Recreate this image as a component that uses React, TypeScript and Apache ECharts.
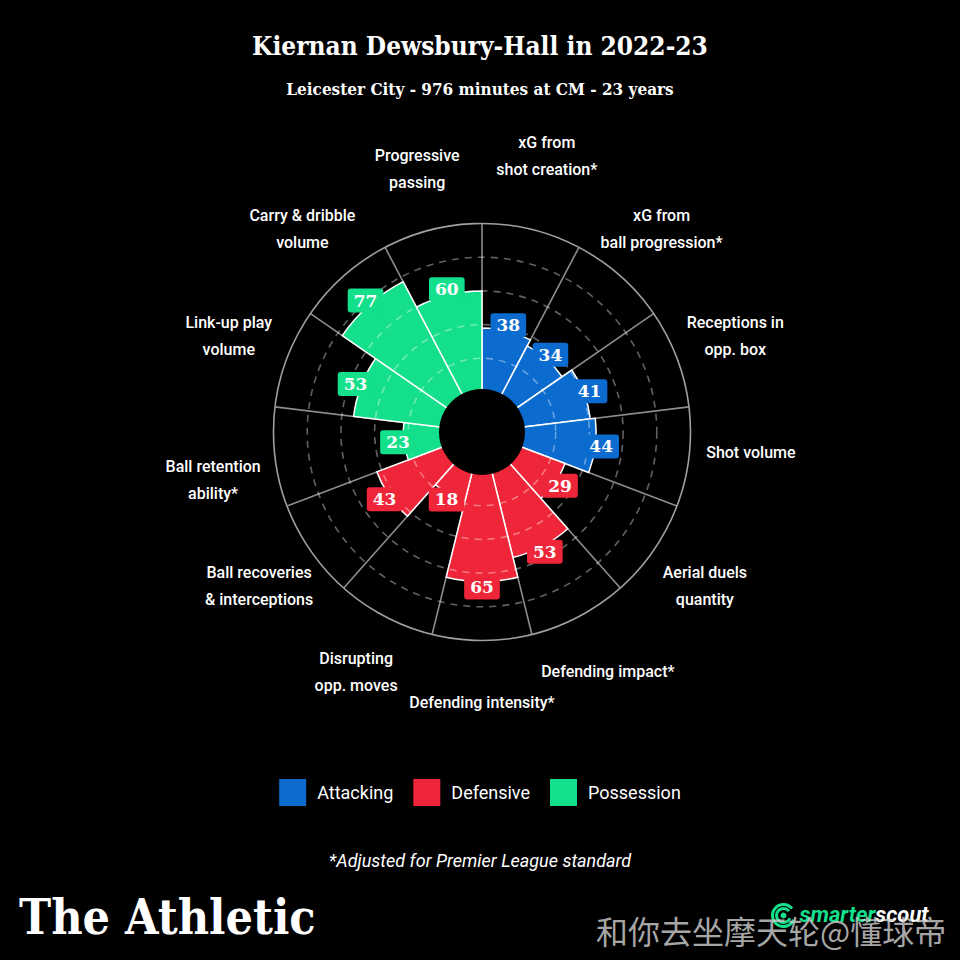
import React, { useEffect, useRef } from "react";
import * as echarts from "echarts";

const TITLE = "Kiernan Dewsbury-Hall in 2022-23";
const SUBTITLE = "Leicester City - 976 minutes at CM - 23 years";
const FOOTNOTE = "*Adjusted for Premier League standard";

const CATEGORIES = [
  "xG from\nshot creation*",
  "xG from\nball progression*",
  "Receptions in\nopp. box",
  "Shot volume",
  "Aerial duels\nquantity",
  "Defending impact*",
  "Defending intensity*",
  "Disrupting\nopp. moves",
  "Ball recoveries\n& interceptions",
  "Ball retention\nability*",
  "Link-up play\nvolume",
  "Carry & dribble\nvolume",
  "Progressive\npassing",
];
const VALUES = [38, 34, 41, 44, 29, 53, 65, 18, 43, 23, 53, 77, 60];
const GROUPS = [
  "Attacking", "Attacking", "Attacking", "Attacking",
  "Defensive", "Defensive", "Defensive", "Defensive", "Defensive",
  "Possession", "Possession", "Possession", "Possession",
];
const GROUP_NAMES = ["Attacking", "Defensive", "Possession"];
const GROUP_COLORS = ["#0b6bcf", "#ef2639", "#14df8b"];

// polar layout
const CX = 482;
const CY = 432;
const R_INNER = 40;
const R_OUTER = 208.5;
const VALUE_LABEL_OFFSET = 3.5; // in value units, beyond bar end
const CATEGORY_LABEL_RADIUS = 137; // in value units
// small vertical nudges (px) for a few category labels, as in the original layout
const CATEGORY_LABEL_NUDGE_Y = [-13, 0, 0, -12, 0, 0, 0, 0, 0, 15, 0, 0, 0];

const SERIF_COND = "'DejaVu Serif Condensed', 'DejaVu Serif', serif";
const SERIF = "'DejaVu Serif', serif";
const SANS = "Roboto, 'Noto Sans', sans-serif";

export default function App() {
  const ref = useRef<HTMLDivElement>(null);

  useEffect(() => {
    document.body.style.margin = "0";
    document.body.style.background = "#000";
    if (!ref.current) return;
    const chart = echarts.init(ref.current, undefined, { renderer: "svg" });

    const colorOf = (i: number) => GROUP_COLORS[GROUP_NAMES.indexOf(GROUPS[i])];
    const splitColor = "rgba(255,255,255,0.38)";

    const barSeries = GROUP_NAMES.map((g, gi) => ({
      type: "bar",
      name: g,
      coordinateSystem: "polar",
      data: VALUES.map((v, i) => (GROUPS[i] === g ? v : "-")),
      barGap: "-100%",
      barCategoryGap: "0%",
      itemStyle: { color: GROUP_COLORS[gi], borderColor: "#ffffff", borderWidth: 1.5 },
      z: 2,
      silent: true,
    }));

    const option: any = {
      animation: false,
      backgroundColor: "#000",
      title: [
        {
          text: TITLE,
          left: "center",
          top: 28,
          textStyle: { color: "#fff", fontFamily: SERIF_COND, fontWeight: "bold", fontSize: 26 },
        },
        {
          text: SUBTITLE,
          left: "center",
          top: 75,
          textStyle: { color: "#fff", fontFamily: SERIF_COND, fontWeight: "bold", fontSize: 17 },
        },
      ],
      legend: {
        data: GROUP_NAMES,
        left: "center",
        top: 774,
        icon: "rect",
        itemWidth: 27,
        itemHeight: 27,
        itemGap: 20,
        itemStyle: { borderWidth: 0 },
        textStyle: { color: "#fff", fontSize: 18, fontFamily: SANS, padding: [0, 0, 0, 6] },
        selectedMode: false,
      },
      polar: { center: [CX, CY], radius: [R_INNER, R_OUTER] },
      angleAxis: {
        type: "category",
        data: CATEGORIES,
        startAngle: 90,
        clockwise: true,
        z: 1,
        axisLine: { show: true, lineStyle: { color: "#a0a0a0", width: 1.6 } },
        axisTick: { show: false },
        axisLabel: { show: false },
        splitLine: { show: true, lineStyle: { color: "#8c8c8c", width: 1.6 } },
      },
      radiusAxis: {
        min: 0,
        max: 100,
        interval: 20,
        z: 3,
        axisLine: { show: false },
        axisTick: { show: false },
        axisLabel: { show: false },
        splitLine: {
          show: true,
          lineStyle: {
            color: ["rgba(0,0,0,0)", splitColor, splitColor, splitColor, splitColor, "rgba(0,0,0,0)"],
            width: 1.6,
            type: [7, 6],
          },
        },
      },
      series: [
        ...barSeries,
        {
          type: "scatter",
          name: "values",
          coordinateSystem: "polar",
          clip: false,
          silent: true,
          z: 10,
          symbolSize: 1,
          itemStyle: { color: "rgba(0,0,0,0)", opacity: 1 },
          data: VALUES.map((v, i) => ({
            name: String(v),
            value: [v + VALUE_LABEL_OFFSET, i],
            label: { backgroundColor: colorOf(i) },
          })),
          label: {
            show: true,
            position: "inside",
            formatter: "{b}",
            color: "#fff",
            fontFamily: SERIF,
            fontWeight: "bold",
            fontSize: 17,
            padding: [4, 6, 3, 6],
            borderRadius: 3,
          },
        },
        {
          type: "scatter",
          name: "categories",
          coordinateSystem: "polar",
          clip: false,
          silent: true,
          z: 10,
          symbolSize: 1,
          itemStyle: { color: "rgba(0,0,0,0)", opacity: 1 },
          data: CATEGORIES.map((c, i) => ({
            name: c,
            value: [CATEGORY_LABEL_RADIUS, i],
            label: { offset: [0, CATEGORY_LABEL_NUDGE_Y[i]] },
          })),
          label: {
            show: true,
            position: "inside",
            formatter: "{b}",
            color: "#fff",
            fontFamily: SANS,
            fontWeight: 500,
            fontSize: 16,
            lineHeight: 27,
          },
        },
      ],
      graphic: [
        {
          type: "circle",
          z: 50,
          silent: true,
          shape: { cx: CX, cy: CY, r: R_INNER + 3 },
          style: { fill: "#000" },
        },
        {
          type: "text",
          left: "center",
          top: 851,
          z: 50,
          style: { text: FOOTNOTE, fill: "#fff", font: `italic 18px ${SANS}` },
        },
        {
          type: "text",
          left: 19,
          top: 893,
          z: 50,
          style: { text: "The Athletic", fill: "#fff", font: `bold 48px ${SERIF_COND}` },
        },
        {
          type: "group",
          left: 770,
          top: 902,
          z: 50,
          children: [
            { type: "circle", shape: { cx: 12, cy: 11, r: 3 }, style: { fill: "#14df8b" } },
            { type: "arc", shape: { cx: 12, cy: 11, r: 7, startAngle: 0.4, endAngle: 5.6 }, style: { stroke: "#14df8b", lineWidth: 3, fill: null } },
            { type: "arc", shape: { cx: 12, cy: 11, r: 11, startAngle: 0.4, endAngle: 5.6 }, style: { stroke: "#14df8b", lineWidth: 3, fill: null } },
            {
              type: "text",
              x: 28,
              y: -1,
              style: {
                text: "{a|smarter}{b|scout}",
                rich: {
                  a: { fill: "#14df8b", font: `italic bold 22px ${SANS}` },
                  b: { fill: "#fff", font: `italic bold 22px ${SANS}` },
                },
              },
            },
          ],
        },
        {
          type: "text",
          left: 596,
          top: 914,
          z: 60,
          style: {
            text: "和你去坐摩天轮@懂球帝",
            fill: "rgba(205,205,205,0.82)",
            font: "32px 'Noto Sans CJK SC'",
          },
        },
      ],
    };

    chart.setOption(option);
    return () => chart.dispose();
  }, []);

  return <div ref={ref} style={{ width: 960, height: 960 }} />;
}
